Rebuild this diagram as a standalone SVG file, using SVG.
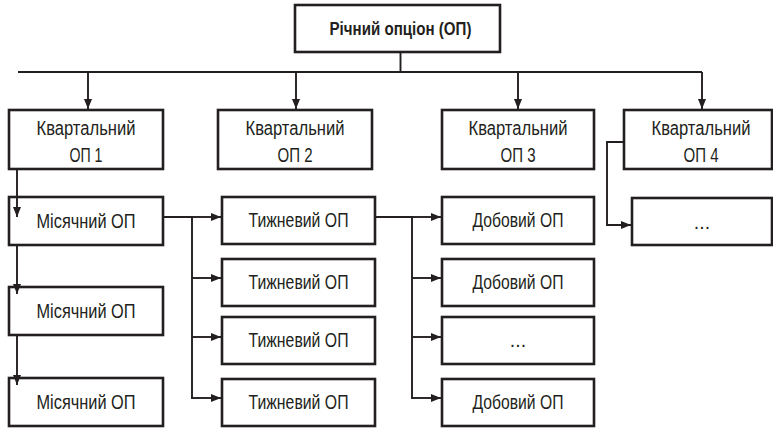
<svg xmlns="http://www.w3.org/2000/svg" width="773" height="428" viewBox="0 0 773 428">
  <style>
    .box { fill: #ffffff; stroke: #231f20; stroke-width: 2.6; }
    .lbl { font-family: "Liberation Sans", "DejaVu Sans", sans-serif; font-size: 19.5px; fill: #231f20; text-anchor: middle; }
    .bold { font-weight: bold; font-size: 19px; }
    .wire { fill: none; stroke: #231f20; stroke-width: 1.9; }
  </style>
  <defs>
    <marker id="arrow" viewBox="0 0 10 8" refX="10" refY="4" markerWidth="10" markerHeight="8" markerUnits="userSpaceOnUse" orient="auto">
      <path d="M0,0 L10,4 L0,8 z" fill="#231f20"/>
    </marker>
  </defs>

  <rect width="773" height="428" fill="#ffffff"/>

  <!-- top node -->
  <g id="year">
    <rect class="box" x="295" y="5" width="205" height="47"/>
    <text class="lbl bold" x="400.5" y="34.5" textLength="142" lengthAdjust="spacingAndGlyphs">Річний опціон (ОП)</text>
  </g>

  <!-- quarterly nodes -->
  <g id="q1">
    <rect class="box" x="9" y="110" width="154" height="59"/>
    <text class="lbl" x="86" y="135" textLength="99" lengthAdjust="spacingAndGlyphs">Квартальний</text>
    <text class="lbl" x="86" y="162" textLength="33" lengthAdjust="spacingAndGlyphs">ОП 1</text>
  </g>
  <g id="q2">
    <rect class="box" x="218" y="110" width="154" height="59"/>
    <text class="lbl" x="295" y="135" textLength="99" lengthAdjust="spacingAndGlyphs">Квартальний</text>
    <text class="lbl" x="295" y="162" textLength="35" lengthAdjust="spacingAndGlyphs">ОП 2</text>
  </g>
  <g id="q3">
    <rect class="box" x="442" y="110" width="152" height="59"/>
    <text class="lbl" x="518" y="135" textLength="99" lengthAdjust="spacingAndGlyphs">Квартальний</text>
    <text class="lbl" x="518" y="162" textLength="35" lengthAdjust="spacingAndGlyphs">ОП 3</text>
  </g>
  <g id="q4">
    <rect class="box" x="624" y="110" width="148" height="59"/>
    <text class="lbl" x="701" y="135" textLength="99" lengthAdjust="spacingAndGlyphs">Квартальний</text>
    <text class="lbl" x="701" y="162" textLength="35" lengthAdjust="spacingAndGlyphs">ОП 4</text>
  </g>

  <!-- monthly nodes -->
  <g id="m1">
    <rect class="box" x="9" y="197" width="154" height="48"/>
    <text class="lbl" x="86" y="228" textLength="99" lengthAdjust="spacingAndGlyphs">Місячний ОП</text>
  </g>
  <g id="m2">
    <rect class="box" x="9" y="287" width="154" height="48"/>
    <text class="lbl" x="86" y="318" textLength="99" lengthAdjust="spacingAndGlyphs">Місячний ОП</text>
  </g>
  <g id="m3">
    <rect class="box" x="9" y="378" width="154" height="48"/>
    <text class="lbl" x="86" y="409" textLength="99" lengthAdjust="spacingAndGlyphs">Місячний ОП</text>
  </g>

  <!-- weekly nodes -->
  <g id="w1">
    <rect class="box" x="222" y="197" width="153" height="47"/>
    <text class="lbl" x="298.5" y="227" textLength="100" lengthAdjust="spacingAndGlyphs">Тижневий ОП</text>
  </g>
  <g id="w2">
    <rect class="box" x="222" y="259" width="153" height="47"/>
    <text class="lbl" x="298.5" y="289" textLength="100" lengthAdjust="spacingAndGlyphs">Тижневий ОП</text>
  </g>
  <g id="w3">
    <rect class="box" x="222" y="317" width="153" height="47"/>
    <text class="lbl" x="298.5" y="347" textLength="100" lengthAdjust="spacingAndGlyphs">Тижневий ОП</text>
  </g>
  <g id="w4">
    <rect class="box" x="222" y="379" width="153" height="47"/>
    <text class="lbl" x="298.5" y="409" textLength="100" lengthAdjust="spacingAndGlyphs">Тижневий ОП</text>
  </g>

  <!-- daily nodes -->
  <g id="d1">
    <rect class="box" x="442" y="197" width="152" height="47"/>
    <text class="lbl" x="518" y="227" textLength="91" lengthAdjust="spacingAndGlyphs">Добовий ОП</text>
  </g>
  <g id="d2">
    <rect class="box" x="442" y="259" width="152" height="47"/>
    <text class="lbl" x="518" y="289" textLength="91" lengthAdjust="spacingAndGlyphs">Добовий ОП</text>
  </g>
  <g id="d3">
    <rect class="box" x="442" y="317" width="152" height="47"/>
    <text class="lbl" x="518" y="347">...</text>
  </g>
  <g id="d4">
    <rect class="box" x="442" y="379" width="152" height="47"/>
    <text class="lbl" x="518" y="409" textLength="91" lengthAdjust="spacingAndGlyphs">Добовий ОП</text>
  </g>

  <!-- continuation node under quarter 4 -->
  <g id="q4-more">
    <rect class="box" x="632" y="198" width="140" height="47"/>
    <text class="lbl" x="702" y="229">...</text>
  </g>

  <!-- connectors, drawn last so arrowheads sit over box edges -->
  <g id="connectors">
    <path class="wire" d="M400.5,52 V72 M18,72 H702"/>
    <path class="wire" marker-end="url(#arrow)" d="M88,72 V109"/>
    <path class="wire" marker-end="url(#arrow)" d="M296,72 V109"/>
    <path class="wire" marker-end="url(#arrow)" d="M518,72 V109"/>
    <path class="wire" marker-end="url(#arrow)" d="M702,72 V109"/>

    <!-- quarter 1 down through the monthly chain -->
    <path class="wire" marker-end="url(#arrow)" d="M17,170 V217"/>
    <path class="wire" marker-end="url(#arrow)" d="M17,246 V294"/>
    <path class="wire" marker-end="url(#arrow)" d="M17,336 V385"/>

    <!-- monthly to weekly -->
    <path class="wire" d="M164,217 H192 V398"/>
    <path class="wire" marker-end="url(#arrow)" d="M192,217 H221"/>
    <path class="wire" marker-end="url(#arrow)" d="M192,278 H221"/>
    <path class="wire" marker-end="url(#arrow)" d="M192,337 H221"/>
    <path class="wire" marker-end="url(#arrow)" d="M191,398 H221"/>

    <!-- weekly to daily -->
    <path class="wire" d="M376,217 H412 V398"/>
    <path class="wire" marker-end="url(#arrow)" d="M412,217 H441"/>
    <path class="wire" marker-end="url(#arrow)" d="M412,278 H441"/>
    <path class="wire" marker-end="url(#arrow)" d="M412,337 H441"/>
    <path class="wire" marker-end="url(#arrow)" d="M411,398 H441"/>

    <!-- quarter 4 to continuation -->
    <path class="wire" marker-end="url(#arrow)" d="M623,142 H607 V225 H631"/>
  </g>
</svg>
